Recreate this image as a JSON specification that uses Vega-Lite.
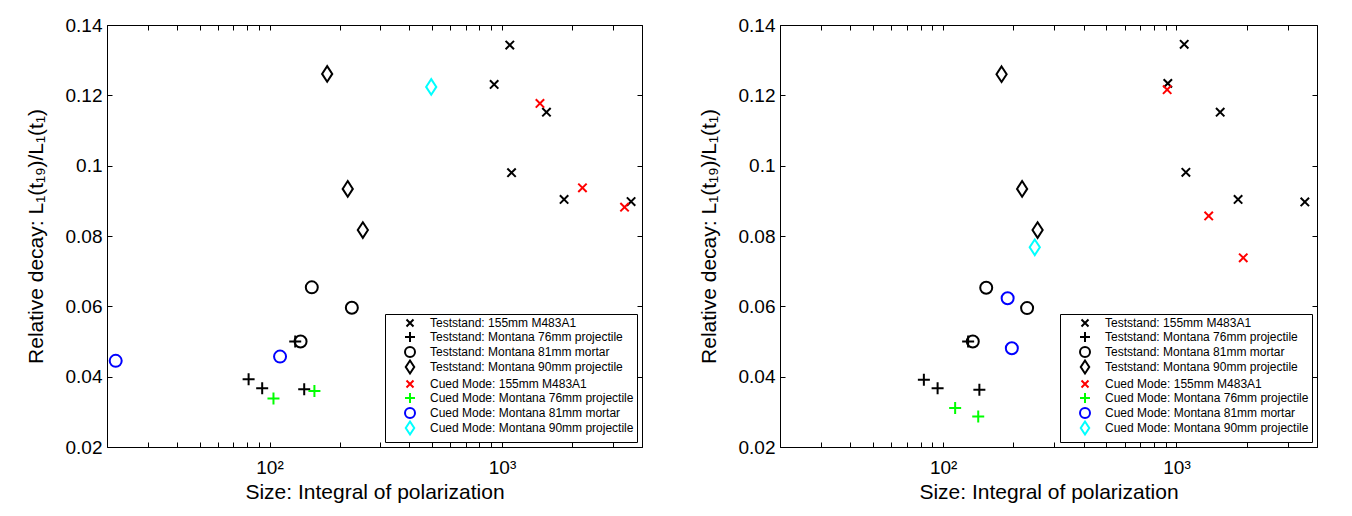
{
  "$schema": "https://vega.github.io/schema/vega-lite/v6.json",
  "padding": {"left": 24, "top": 15, "right": 0, "bottom": 0},
  "background": "white",
  "config": {
    "font": "Liberation Sans",
    "view": {"stroke": "#000000", "strokeWidth": 1},
    "axis": {
      "domain": false, "grid": false, "ticks": true, "tickColor": "#000000", "tickWidth": 1, "tickSize": -5,
      "labelColor": "#000000", "labelFont": "Liberation Sans", "labelFontSize": 19,
      "titleColor": "#000000", "titleFont": "Liberation Sans", "titleFontSize": 21, "titleFontWeight": "normal",
      "labelOverlap": false, "labelFlush": false
    },
    "legend": {
      "title": null, "orient": "bottom-right", "offset": 5, "strokeColor": "#000000", "fillColor": "#ffffff",
      "padding": 3, "symbolStrokeWidth": 2, "symbolSize": 100, "labelFont": "Liberation Sans", "labelFontSize": 12,
      "labelColor": "#000000", "rowPadding": -5, "symbolOffset": 16, "labelOffset": 14, "labelLimit": 300
    }
  },
  "datasets": {
    "left": [
      {"series": "Teststand: 155mm M483A1", "size": 1080, "decay": 0.1343},
      {"series": "Teststand: 155mm M483A1", "size": 925, "decay": 0.1231},
      {"series": "Teststand: 155mm M483A1", "size": 1553, "decay": 0.1152},
      {"series": "Teststand: 155mm M483A1", "size": 1099, "decay": 0.098},
      {"series": "Teststand: 155mm M483A1", "size": 1849, "decay": 0.0904},
      {"series": "Teststand: 155mm M483A1", "size": 3590, "decay": 0.0898},
      {"series": "Teststand: Montana 76mm projectile", "size": 81.3, "decay": 0.0393},
      {"series": "Teststand: Montana 76mm projectile", "size": 93, "decay": 0.0367},
      {"series": "Teststand: Montana 76mm projectile", "size": 141, "decay": 0.0364},
      {"series": "Teststand: Montana 76mm projectile", "size": 129, "decay": 0.050},
      {"series": "Teststand: Montana 81mm mortar", "size": 152, "decay": 0.0654},
      {"series": "Teststand: Montana 81mm mortar", "size": 226, "decay": 0.0596},
      {"series": "Teststand: Montana 81mm mortar", "size": 136, "decay": 0.0500},
      {"series": "Teststand: Montana 90mm projectile", "size": 177, "decay": 0.1261},
      {"series": "Teststand: Montana 90mm projectile", "size": 217, "decay": 0.0934},
      {"series": "Teststand: Montana 90mm projectile", "size": 252, "decay": 0.0817},
      {"series": "Cued Mode: 155mm M483A1", "size": 1456, "decay": 0.1177},
      {"series": "Cued Mode: 155mm M483A1", "size": 2218, "decay": 0.0937},
      {"series": "Cued Mode: 155mm M483A1", "size": 3365, "decay": 0.0882},
      {"series": "Cued Mode: Montana 76mm projectile", "size": 104, "decay": 0.0338},
      {"series": "Cued Mode: Montana 76mm projectile", "size": 156, "decay": 0.0359},
      {"series": "Cued Mode: Montana 81mm mortar", "size": 21.8, "decay": 0.0445},
      {"series": "Cued Mode: Montana 81mm mortar", "size": 111, "decay": 0.0457},
      {"series": "Cued Mode: Montana 90mm projectile", "size": 496, "decay": 0.1224}
    ],
    "right": [
      {"series": "Teststand: 155mm M483A1", "size": 1079, "decay": 0.1345},
      {"series": "Teststand: 155mm M483A1", "size": 918, "decay": 0.1234},
      {"series": "Teststand: 155mm M483A1", "size": 1539, "decay": 0.1152},
      {"series": "Teststand: 155mm M483A1", "size": 1097, "decay": 0.0981},
      {"series": "Teststand: 155mm M483A1", "size": 1836, "decay": 0.0904},
      {"series": "Teststand: 155mm M483A1", "size": 3548, "decay": 0.0897},
      {"series": "Teststand: Montana 76mm projectile", "size": 82.7, "decay": 0.0391},
      {"series": "Teststand: Montana 76mm projectile", "size": 94.7, "decay": 0.0367},
      {"series": "Teststand: Montana 76mm projectile", "size": 143, "decay": 0.0363},
      {"series": "Teststand: Montana 76mm projectile", "size": 128, "decay": 0.050},
      {"series": "Teststand: Montana 81mm mortar", "size": 153, "decay": 0.0653},
      {"series": "Teststand: Montana 81mm mortar", "size": 229, "decay": 0.0595},
      {"series": "Teststand: Montana 81mm mortar", "size": 134, "decay": 0.0500},
      {"series": "Teststand: Montana 90mm projectile", "size": 178, "decay": 0.126},
      {"series": "Teststand: Montana 90mm projectile", "size": 218, "decay": 0.0934},
      {"series": "Teststand: Montana 90mm projectile", "size": 254, "decay": 0.0817},
      {"series": "Cued Mode: 155mm M483A1", "size": 912, "decay": 0.1216},
      {"series": "Cued Mode: 155mm M483A1", "size": 1374, "decay": 0.0857},
      {"series": "Cued Mode: 155mm M483A1", "size": 1932, "decay": 0.0738},
      {"series": "Cued Mode: Montana 76mm projectile", "size": 112.6, "decay": 0.0311},
      {"series": "Cued Mode: Montana 76mm projectile", "size": 141.4, "decay": 0.0287},
      {"series": "Cued Mode: Montana 81mm mortar", "size": 189, "decay": 0.0623},
      {"series": "Cued Mode: Montana 81mm mortar", "size": 197, "decay": 0.0481},
      {"series": "Cued Mode: Montana 90mm projectile", "size": 247, "decay": 0.0768}
    ]
  },
  "hconcat": [
    {
      "data": {"name": "left"},
      "width": 535, "height": 422,
      "layer": [
        {
          "mark": {"type": "point", "filled": false, "strokeWidth": 2, "size": 144, "opacity": 1},
          "encoding": {
            "x": {"field": "size", "type": "quantitative", "scale": {"type": "log", "domain": [20, 4000], "nice": false},
                  "axis": {"orient": "bottom", "title": "Size: Integral of polarization", "values": [20,30,40,50,60,70,80,90,100,200,300,400,500,600,700,800,900,1000,2000,3000,4000],
                           "labelExpr": "datum.value == 100 ? '10²' : datum.value == 1000 ? '10³' : ''", "labelPadding": 16, "titlePadding": 4}},
            "y": {"field": "decay", "type": "quantitative", "scale": {"domain": [0.02, 0.14], "nice": false, "zero": false},
                  "axis": {"orient": "left", "title": "Relative decay: L₁(t₁₉)/L₁(t₁)", "values": [0.02,0.04,0.06,0.08,0.1,0.12,0.14], "format": "~g", "labelPadding": 10, "titlePadding": 19}},
            "shape": {"field": "series", "type": "nominal",
                      "legend": {"symbolSize": 100},
                      "scale": {"domain": ["Teststand: 155mm M483A1", "Teststand: Montana 76mm projectile", "Teststand: Montana 81mm mortar", "Teststand: Montana 90mm projectile", "Cued Mode: 155mm M483A1", "Cued Mode: Montana 76mm projectile", "Cued Mode: Montana 81mm mortar", "Cued Mode: Montana 90mm projectile"],
                                "range": ["M-0.7,-0.7L0.7,0.7M0.7,-0.7L-0.7,0.7", "M-1,0L1,0M0,-1L0,1", "circle", "M0,-1.3L0.85,0L0,1.3L-0.85,0Z", "M-0.7,-0.7L0.7,0.7M0.7,-0.7L-0.7,0.7", "M-1,0L1,0M0,-1L0,1", "circle", "M0,-1.3L0.85,0L0,1.3L-0.85,0Z"]}},
            "color": {"field": "series", "type": "nominal",
                      "scale": {"domain": ["Teststand: 155mm M483A1", "Teststand: Montana 76mm projectile", "Teststand: Montana 81mm mortar", "Teststand: Montana 90mm projectile", "Cued Mode: 155mm M483A1", "Cued Mode: Montana 76mm projectile", "Cued Mode: Montana 81mm mortar", "Cued Mode: Montana 90mm projectile"],
                                "range": ["#000000", "#000000", "#000000", "#000000", "#ff0000", "#00ff00", "#0000ff", "#00ffff"]}}
          }
        },
        {
          "mark": {"type": "point", "opacity": 0},
          "encoding": {
            "x": {"field": "size", "type": "quantitative", "scale": {"type": "log", "domain": [20, 4000], "nice": false},
                  "axis": {"orient": "top", "title": null, "labels": false, "values": [20,30,40,50,60,70,80,90,100,200,300,400,500,600,700,800,900,1000,2000,3000,4000]}},
            "y": {"field": "decay", "type": "quantitative", "scale": {"domain": [0.02, 0.14], "nice": false, "zero": false},
                  "axis": {"orient": "right", "title": null, "labels": false, "values": [0.02,0.04,0.06,0.08,0.1,0.12,0.14]}}
          }
        }
      ],
      "resolve": {"axis": {"x": "independent", "y": "independent"}}
    },
    {
      "data": {"name": "right"},
      "width": 537, "height": 422,
      "layer": [
        {
          "mark": {"type": "point", "filled": false, "strokeWidth": 2, "size": 144, "opacity": 1},
          "encoding": {
            "x": {"field": "size", "type": "quantitative", "scale": {"type": "log", "domain": [20, 4000], "nice": false},
                  "axis": {"orient": "bottom", "title": "Size: Integral of polarization", "values": [20,30,40,50,60,70,80,90,100,200,300,400,500,600,700,800,900,1000,2000,3000,4000],
                           "labelExpr": "datum.value == 100 ? '10²' : datum.value == 1000 ? '10³' : ''", "labelPadding": 16, "titlePadding": 4}},
            "y": {"field": "decay", "type": "quantitative", "scale": {"domain": [0.02, 0.14], "nice": false, "zero": false},
                  "axis": {"orient": "left", "title": "Relative decay: L₁(t₁₉)/L₁(t₁)", "values": [0.02,0.04,0.06,0.08,0.1,0.12,0.14], "format": "~g", "labelPadding": 10, "titlePadding": 19}},
            "shape": {"field": "series", "type": "nominal",
                      "legend": {"symbolSize": 100},
                      "scale": {"domain": ["Teststand: 155mm M483A1", "Teststand: Montana 76mm projectile", "Teststand: Montana 81mm mortar", "Teststand: Montana 90mm projectile", "Cued Mode: 155mm M483A1", "Cued Mode: Montana 76mm projectile", "Cued Mode: Montana 81mm mortar", "Cued Mode: Montana 90mm projectile"],
                                "range": ["M-0.7,-0.7L0.7,0.7M0.7,-0.7L-0.7,0.7", "M-1,0L1,0M0,-1L0,1", "circle", "M0,-1.3L0.85,0L0,1.3L-0.85,0Z", "M-0.7,-0.7L0.7,0.7M0.7,-0.7L-0.7,0.7", "M-1,0L1,0M0,-1L0,1", "circle", "M0,-1.3L0.85,0L0,1.3L-0.85,0Z"]}},
            "color": {"field": "series", "type": "nominal",
                      "scale": {"domain": ["Teststand: 155mm M483A1", "Teststand: Montana 76mm projectile", "Teststand: Montana 81mm mortar", "Teststand: Montana 90mm projectile", "Cued Mode: 155mm M483A1", "Cued Mode: Montana 76mm projectile", "Cued Mode: Montana 81mm mortar", "Cued Mode: Montana 90mm projectile"],
                                "range": ["#000000", "#000000", "#000000", "#000000", "#ff0000", "#00ff00", "#0000ff", "#00ffff"]}}
          }
        },
        {
          "mark": {"type": "point", "opacity": 0},
          "encoding": {
            "x": {"field": "size", "type": "quantitative", "scale": {"type": "log", "domain": [20, 4000], "nice": false},
                  "axis": {"orient": "top", "title": null, "labels": false, "values": [20,30,40,50,60,70,80,90,100,200,300,400,500,600,700,800,900,1000,2000,3000,4000]}},
            "y": {"field": "decay", "type": "quantitative", "scale": {"domain": [0.02, 0.14], "nice": false, "zero": false},
                  "axis": {"orient": "right", "title": null, "labels": false, "values": [0.02,0.04,0.06,0.08,0.1,0.12,0.14]}}
          }
        }
      ],
      "resolve": {"axis": {"x": "independent", "y": "independent"}}
    }
  ],
  "spacing": 54,
  "resolve": {"scale": {"color": "independent", "shape": "independent"}}
}
